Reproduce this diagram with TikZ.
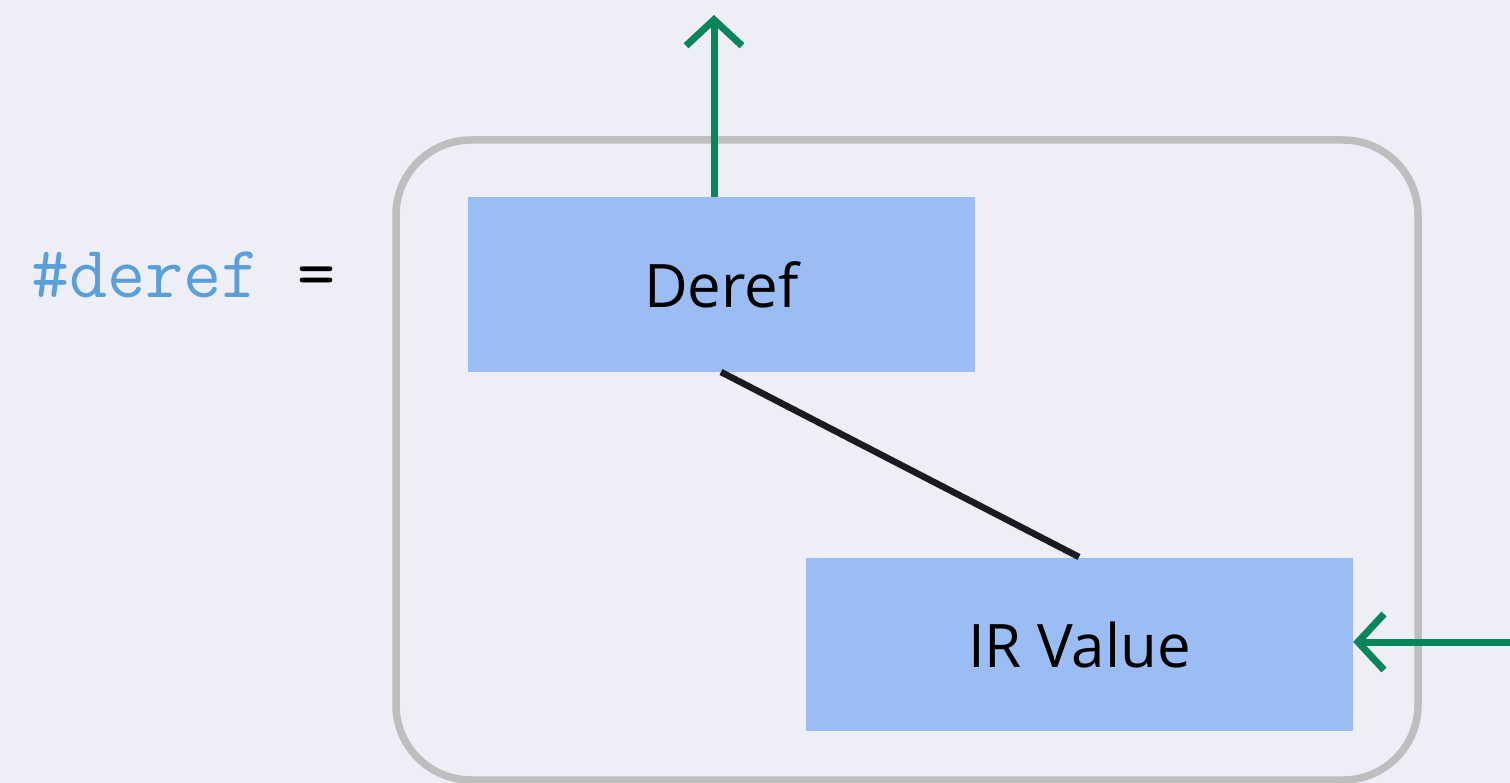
\documentclass[tikz,border=0pt]{standalone}
\usepackage{fontspec}
\setmainfont{Open Sans}
\setmonofont{Latin Modern Mono}
\usetikzlibrary{arrows.meta}
\definecolor{bgc}{HTML}{EEEFF6}
\definecolor{framec}{HTML}{BEBEBE}
\definecolor{boxc}{HTML}{9BBDF4}
\definecolor{greenc}{HTML}{0A8459}
\definecolor{codec}{HTML}{5A9FD8}
\definecolor{linec}{HTML}{1A1A24}
\tikzset{
  opbox/.style={fill=boxc, draw=none, inner sep=0pt, font=\fontsize{60}{72}\selectfont},
  flow/.style={draw=greenc, line width=7pt, -{Straight Barb[length=26pt, width=56pt, line width=7pt]}},
  edge/.style={draw=linec, line width=6.5pt},
}
\begin{document}
\begin{tikzpicture}[x=1pt,y=-1pt]
\fill[bgc] (0,0) rectangle (1510,783);
\useasboundingbox (0,0) rectangle (1510,783);
\draw[framec, line width=7.5pt, rounded corners=75pt] (396,140) rectangle (1418,780);
\node[opbox, minimum width=507pt, minimum height=175pt] (deref) at (721.5,284.5) {Deref};
\node[opbox, minimum width=547pt, minimum height=173pt] (irv) at (1079.5,644.5) {IR Value};
\node[font=\ttfamily\fontsize{74}{84}\selectfont, text=codec, anchor=base west, inner sep=0pt] (lbl) at (31,298) {\#deref \textcolor{black}{=}};
\coordinate (topend) at (714,15);
\coordinate (rightend) at (1515,642);
\draw[edge] (721,372) -- (1079,557);
\draw[flow] (deref.north -| topend) -- (topend);
\draw[flow] (rightend) -- (irv.east |- rightend);
\end{tikzpicture}
\end{document}
